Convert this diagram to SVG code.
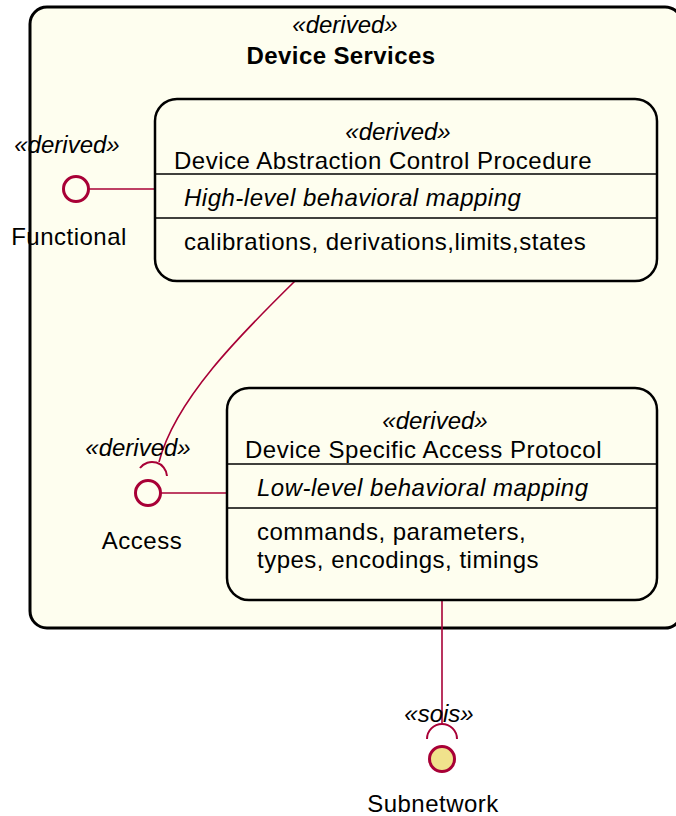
<svg xmlns="http://www.w3.org/2000/svg" width="676" height="816" viewBox="0 0 676 816">
<style>
text{font-family:"Liberation Sans",Arial,sans-serif;font-size:24px;fill:#000;letter-spacing:0.5px}
.st{font-style:italic;letter-spacing:0}
.it{font-style:italic}
.b{font-weight:bold;letter-spacing:0.4px}
.m{text-anchor:middle}
.box{fill:#FEFEEF;stroke:#000;stroke-width:2.5}
.sep{stroke:#000;stroke-width:1.5}
.lnk{fill:none;stroke:#A80036;stroke-width:1.6}
.ifc{fill:#FEFEEF;stroke:#A80036;stroke-width:3}
.sock{fill:none;stroke:#A80036;stroke-width:2}
</style>
<rect width="676" height="816" fill="#FFFFFF"/>
<g id="device-services">
<rect x="30" y="7" width="652" height="621" rx="17" fill="#FEFEEF" stroke="#000" stroke-width="3"/>
<text class="st m" x="345" y="33">«derived»</text>
<text class="b m" x="341" y="64">Device Services</text>
</g>
<g id="connectors">
<line class="lnk" x1="88" y1="189" x2="155" y2="189"/>
<path class="lnk" d="M295,281 C240,335 175,400 159,462"/>
<line class="lnk" x1="161" y1="493" x2="227" y2="493"/>
<line class="lnk" x1="442" y1="600" x2="442" y2="725"/>
</g>
<g id="dacp">
<rect class="box" x="155" y="99" width="502" height="182" rx="22"/>
<line class="sep" x1="155" y1="174" x2="657" y2="174"/>
<line class="sep" x1="155" y1="218" x2="657" y2="218"/>
<text class="st m" x="398" y="140">«derived»</text>
<text x="174" y="169">Device Abstraction Control Procedure</text>
<text class="it" x="184" y="206">High-level behavioral mapping</text>
<text x="184" y="250">calibrations, derivations,limits,states</text>
</g>
<g id="dsap">
<rect class="box" x="227" y="388" width="430" height="212" rx="22"/>
<line class="sep" x1="227" y1="464" x2="657" y2="464"/>
<line class="sep" x1="227" y1="508" x2="657" y2="508"/>
<text class="st m" x="435" y="429">«derived»</text>
<text x="245" y="458">Device Specific Access Protocol</text>
<text class="it" x="257" y="496">Low-level behavioral mapping</text>
<text x="257" y="540">commands, parameters,</text>
<text x="257" y="568">types, encodings, timings</text>
</g>
<g id="functional">
<circle class="ifc" cx="76" cy="189" r="12.5"/>
<text class="st m" x="67" y="153">«derived»</text>
<text class="m" x="69" y="245">Functional</text>
</g>
<g id="access">
<circle class="ifc" cx="148" cy="493" r="12.5"/>
<path class="sock" d="M140,468 A15,15 0 0 1 167,476"/>
<text class="st m" x="138" y="456">«derived»</text>
<text class="m" x="142" y="549">Access</text>
</g>
<g id="subnetwork">
<circle class="ifc" cx="442" cy="759" r="12.5" style="fill:#F0E28C"/>
<path class="sock" d="M427,739 A15,15 0 0 1 457,739"/>
<text class="st m" x="439" y="722">«sois»</text>
<text class="m" x="433" y="812">Subnetwork</text>
</g>
</svg>
